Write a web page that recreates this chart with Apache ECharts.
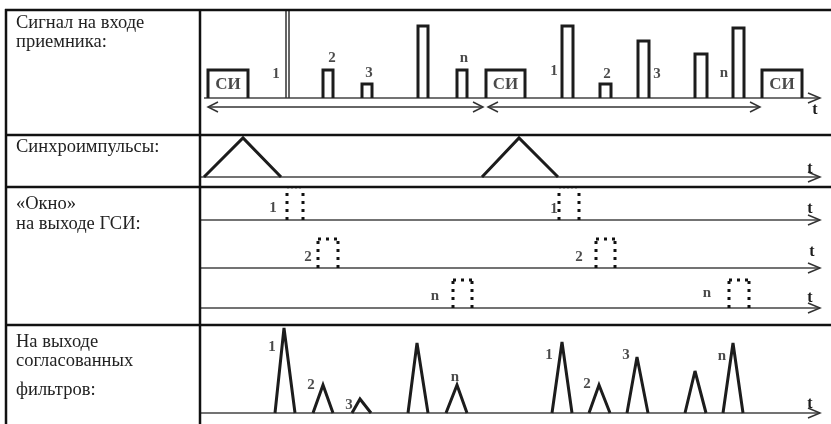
<!DOCTYPE html>
<html><head><meta charset="utf-8">
<script src="https://cdn.jsdelivr.net/npm/echarts@6/dist/echarts.min.js"></script>
<style>html,body{margin:0;padding:0;background:#fff}#c{width:831px;height:424px}</style>
</head><body><div id="c"></div>
<script>
// ---- DATA (time t in axis units, amplitude above baseline) ----
// Row 1: signal at receiver input
const inputPulseStart = [8, 86, 123, 162, 218, 257, 286, 362, 400, 438, 495, 533, 562];
const inputPulseEnd   = [48, 89, 133, 172, 228, 267, 325, 373, 411, 449, 507, 544, 602];
const inputPulseAmp   = [28, 88, 28, 14, 72, 28, 28, 72, 14, 57, 44, 70, 28];
const inputPulseKind  = ['si', 'thin', 'p', 'p', 'p', 'p', 'si', 'p', 'p', 'p', 'p', 'p', 'si'];
const inputLabelText  = ['1', '2', '3', 'n', '1', '2', '3', 'n'];
const inputLabelT     = [76, 132, 169, 264, 354, 407, 457, 524];
const inputLabelA     = [24, 40, 25, 40, 27, 24, 24, 25];
const periodStart     = [8, 288];
const periodEnd       = [283, 560];
const periodText      = ['Δt', 'Δt'];
const periodLabelT    = [117, 393];
// Row 2: sync pulses
const syncStart = [4, 282];
const syncApex  = [43, 319];
const syncEnd   = [81, 358];
const syncAmp   = [39, 39];
// Row 3: gate windows (three channels, two periods each)
const windowStart  = [[87, 359], [118, 396], [253, 529]];
const windowEnd    = [[103, 379], [138, 415], [272, 549]];
const windowAmp    = [32, 29, 28];
const windowText   = ['1', '2', 'n'];
const windowLabelT = [[73, 354], [108, 379], [235, 507]];
const windowLabelA = [[12, 11], [11, 11], [12, 15]];
// Row 4: matched filter outputs
const outStart = [75, 113, 152, 208, 246, 352, 389, 427, 485, 523];
const outApex  = [84, 123, 160, 217, 257, 362, 399, 437, 495, 533];
const outEnd   = [95, 133, 171, 228, 267, 372, 410, 448, 506, 543];
const outAmp   = [85, 28, 14, 70, 28, 71, 28, 56, 42, 70];
const outLabelText = ['1', '2', '3', 'n', '1', '2', '3', 'n'];
const outLabelT    = [72, 111, 149, 255, 349, 387, 426, 522];
const outLabelA    = [66, 28, 8, 36, 58, 29, 58, 57];
// Row titles
const rowTitles = [
  ['Сигнал на входе', 'приемника:'],
  ['Синхроимпульсы:'],
  ['«Окно»', 'на выходе ГСИ:'],
  ['На выходе', 'согласованных', 'фильтров:']
];

// ---- LAYOUT ----
const baselines = [98, 177, 220, 268, 308, 413];
const AX_END = 620;
const serif = "'Liberation Serif', 'DejaVu Serif', serif";
const INK = '#1c1c1c';
const grids = [], xAxes = [], yAxes = [], series = [];
baselines.forEach((b, i) => {
  grids.push({left: 200, top: b - 90, width: 631, height: 100});
  xAxes.push({type: 'value', gridIndex: i, min: 0, max: 631, show: false});
  yAxes.push({type: 'value', gridIndex: i, min: -10, max: 90, show: false});
});
function line(g, pts, style, z) {
  series.push({type: 'line', xAxisIndex: g, yAxisIndex: g, data: pts, symbol: 'none',
    clip: false, silent: true, animation: false, z: z || 3,
    lineStyle: Object.assign({color: INK, width: 3, cap: 'butt', join: 'miter', miterLimit: 3}, style)});
}
function labels(g, items, size) {
  series.push({type: 'scatter', xAxisIndex: g, yAxisIndex: g, symbolSize: 0, silent: true,
    animation: false, z: 5,
    data: items.map(it => ({value: [it.t, it.a], name: it.text})),
    label: {show: true, position: 'inside', formatter: '{b}', color: INK,
      fontFamily: serif, fontWeight: 'bold', fontSize: size || 15,
      align: 'center', verticalAlign: 'middle'}});
}
function axisArrow(g, from) {
  line(g, [[from, 0], [AX_END, 0]], {color: '#444', width: 1.5}, 2);
  line(g, [[AX_END - 12, 5], [AX_END, 0], [AX_END - 12, -5]], {color: '#333', width: 1.5}, 2);
}

// Row 1
axisArrow(0, 4);
inputPulseStart.forEach((t0, i) => {
  const t1 = inputPulseEnd[i], a = inputPulseAmp[i];
  const st = inputPulseKind[i] === 'thin' ? {width: 1.5, color: '#333'} : {};
  line(0, [[t0, 0], [t0, a], [t1, a], [t1, 0]], st);
});
const siLabels = [];
inputPulseKind.forEach((k, i) => {
  if (k === 'si') siLabels.push({t: (inputPulseStart[i] + inputPulseEnd[i]) / 2, a: inputPulseAmp[i] / 2 - 1, text: 'СИ'});
});
labels(0, siLabels, 17);
labels(0, inputLabelText.map((s, i) => ({t: inputLabelT[i], a: inputLabelA[i], text: s})));
periodStart.forEach((s, i) => {
  const e = periodEnd[i], y = -9;
  line(0, [[s, y], [e, y]], {color: '#333', width: 1.5}, 2);
  line(0, [[s + 10, y + 5], [s, y], [s + 10, y - 5]], {color: '#333', width: 1.5}, 2);
  line(0, [[e - 10, y + 5], [e, y], [e - 10, y - 5]], {color: '#333', width: 1.5}, 2);
});
labels(0, periodText.map((s, i) => ({t: periodLabelT[i], a: -20, text: s})), 16);

// Row 2
axisArrow(1, 0);
syncStart.forEach((s, i) => line(1, [[s, 0], [syncApex[i], syncAmp[i]], [syncEnd[i], 0]], {}));

// Row 3
windowStart.forEach((arr, k) => {
  const g = 2 + k;
  axisArrow(g, 0);
  arr.forEach((s, j) => {
    const e = windowEnd[k][j], a = windowAmp[k];
    const dot = {type: [3, 5], width: 3, color: '#111'};
    line(g, [[s, 0], [s, a]], dot, 4);
    line(g, [[e, 0], [e, a]], dot, 4);
    line(g, [[s, a], [e, a]], k === 0 ? {type: [2, 2], width: 1.5, color: '#aaa'} : dot, 4);
  });
  labels(g, arr.map((s, j) => ({t: windowLabelT[k][j], a: windowLabelA[k][j], text: windowText[k]})));
});

// Row 4
axisArrow(5, 0);
outStart.forEach((s, i) => line(5, [[s, 0], [outApex[i], outAmp[i]], [outEnd[i], 0]], {}));
labels(5, outLabelText.map((s, i) => ({t: outLabelT[i], a: outLabelA[i], text: s})));

// ---- table frame + titles (graphic) ----
const graphic = [];
const hl = (y) => graphic.push({type: 'line', shape: {x1: 5, y1: y, x2: 831, y2: y}, style: {stroke: '#111', lineWidth: 2.5}, z: 10});
const vl = (x) => graphic.push({type: 'line', shape: {x1: x, y1: 9, x2: x, y2: 424}, style: {stroke: '#111', lineWidth: 2.5}, z: 10});
[10, 135, 187, 325].forEach(hl);
[6, 200].forEach(vl);
const titleY = [[23, 42], [147], [204, 224], [342, 361, 390]];
rowTitles.forEach((lines, r) => lines.forEach((txt, j) => graphic.push({type: 'text', x: 16, y: titleY[r][j],
  style: {text: txt, fill: '#222', font: '18.5px ' + serif, textVerticalAlign: 'middle'}, z: 10})));
const tPos = [[815, 110], [810, 169], [810, 209], [812, 252], [810, 298], [810, 404]];
tPos.forEach(p => graphic.push({type: 'text', x: p[0], y: p[1], style: {text: 't', fill: INK,
  font: 'bold 16px ' + serif, textAlign: 'center', textVerticalAlign: 'middle'}, z: 10}));

const chart = echarts.init(document.getElementById('c'), null, {renderer: 'canvas'});
chart.setOption({animation: false, backgroundColor: '#fff', grid: grids, xAxis: xAxes, yAxis: yAxes, series: series, graphic: graphic});
</script></body></html>
